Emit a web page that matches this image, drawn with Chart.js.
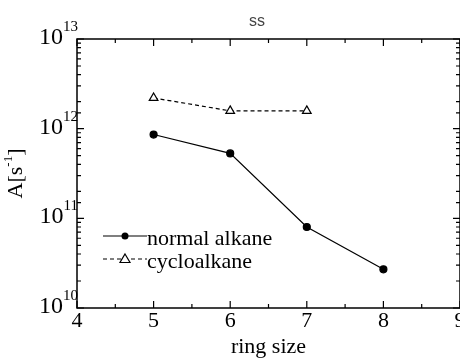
<!DOCTYPE html>
<html>
<head>
<meta charset="utf-8">
<script src="https://cdn.jsdelivr.net/npm/chart.js@4.4.0/dist/chart.umd.min.js"></script>
<style>
  html, body { margin: 0; padding: 0; background: #fff; }
  #chart { display: block; }
</style>
</head>
<body>
<canvas id="chart" width="460" height="360"></canvas>
<script>
const ringSizes = [5, 6, 7, 8];
const normalAlkane = [8.6e11, 5.3e11, 8.0e10, 2.7e10];
const cycloSizes = [5, 6, 7];
const cycloalkane = [2.2e12, 1.58e12, 1.58e12];
const xTickLabels = ['4', '5', '6', '7', '8', '9'];
const yDecades = [10, 11, 12, 13];

const serif = '"Liberation Serif", "Times New Roman", serif';

const frame = {
  id: 'frame',
  afterDraw(chart) {
    const { ctx, chartArea: a, scales } = chart;
    const x = scales.x, y = scales.y;
    ctx.save();
    ctx.strokeStyle = '#000';
    ctx.lineWidth = 1.5;
    ctx.strokeRect(a.left, a.top, a.right - a.left, a.bottom - a.top);

    // inward ticks
    ctx.lineWidth = 1.2;
    ctx.beginPath();
    for (let v = 4; v <= 9; v += 0.5) {
      const px = x.getPixelForValue(v);
      const len = Number.isInteger(v) ? 7 : 4;
      ctx.moveTo(px, a.bottom); ctx.lineTo(px, a.bottom - len);
      ctx.moveTo(px, a.top); ctx.lineTo(px, a.top + len);
    }
    y.ticks.forEach(t => {
      const py = y.getPixelForValue(t.value);
      const e = Math.log10(t.value);
      const len = Math.abs(e - Math.round(e)) < 1e-6 ? 7 : 4;
      ctx.moveTo(a.left, py); ctx.lineTo(a.left + len, py);
      ctx.moveTo(a.right, py); ctx.lineTo(a.right - len, py);
    });
    ctx.stroke();

    // y tick labels 10^n
    ctx.fillStyle = '#000';
    ctx.textBaseline = 'alphabetic';
    yDecades.forEach(n => {
      const py = y.getPixelForValue(Math.pow(10, n));
      ctx.font = '15px ' + serif;
      ctx.textAlign = 'right';
      const expW = ctx.measureText(String(n)).width;
      ctx.fillText(String(n), a.left + 1, py - 8);
      ctx.font = '24px ' + serif;
      ctx.fillText('10', a.left + 1 - expW, py + 5);
    });

    // y axis title
    ctx.save();
    ctx.translate(16, (a.top + a.bottom) / 2);
    ctx.rotate(-Math.PI / 2);
    ctx.textAlign = 'left';
    ctx.textBaseline = 'middle';
    const parts = [['A[s', 22, 0], ['-1', 13, -7], [']', 22, 0]];
    let total = 0;
    parts.forEach(p => { ctx.font = p[1] + 'px ' + serif; total += ctx.measureText(p[0]).width; });
    let cx = -total / 2;
    parts.forEach(p => {
      ctx.font = p[1] + 'px ' + serif;
      ctx.fillText(p[0], cx, p[2]);
      cx += ctx.measureText(p[0]).width;
    });
    ctx.restore();

    // title
    ctx.font = '16px "Liberation Sans", Arial, sans-serif';
    ctx.fillStyle = '#444';
    ctx.textAlign = 'center';
    ctx.textBaseline = 'middle';
    ctx.fillText('ss', 257, 22);

    // legend inside plot
    ctx.strokeStyle = '#000';
    ctx.lineWidth = 1.2;
    ctx.textAlign = 'left';
    ctx.font = '22px ' + serif;
    const ds = chart.data.datasets;
    const rows = [236, 259];
    ds.forEach((d, i) => {
      const ly = rows[i];
      ctx.setLineDash(d.borderDash || []);
      ctx.beginPath();
      ctx.moveTo(103, ly); ctx.lineTo(147, ly);
      ctx.stroke();
      ctx.setLineDash([]);
      if (d.pointStyle === 'triangle') {
        ctx.fillStyle = '#fff';
        ctx.beginPath();
        ctx.moveTo(125, ly - 5); ctx.lineTo(130, ly + 3.5); ctx.lineTo(120, ly + 3.5); ctx.closePath();
        ctx.fill(); ctx.stroke();
      } else {
        ctx.fillStyle = '#000';
        ctx.beginPath();
        ctx.arc(125, ly, 3.5, 0, Math.PI * 2);
        ctx.fill();
      }
      ctx.fillStyle = '#000';
      ctx.textBaseline = 'middle';
      ctx.fillText(d.label, 147, ly + 3);
    });
    ctx.restore();
  }
};

new Chart(document.getElementById('chart'), {
  type: 'line',
  data: {
    datasets: [
      {
        label: 'normal alkane',
        data: ringSizes.map((r, i) => ({ x: r, y: normalAlkane[i] })),
        borderColor: '#000',
        borderWidth: 1.2,
        pointStyle: 'circle',
        pointRadius: 3.5,
        pointBackgroundColor: '#000',
        pointBorderColor: '#000',
        tension: 0
      },
      {
        label: 'cycloalkane',
        data: cycloSizes.map((r, i) => ({ x: r, y: cycloalkane[i] })),
        borderColor: '#000',
        borderWidth: 1.2,
        borderDash: [4, 3],
        pointStyle: 'triangle',
        pointRadius: 5,
        pointBackgroundColor: '#fff',
        pointBorderColor: '#000',
        pointBorderWidth: 1.2,
        tension: 0
      }
    ]
  },
  options: {
    responsive: false,
    animation: false,
    layout: { autoPadding: false, padding: { top: 39, right: -2, left: 0, bottom: 0 } },
    plugins: { legend: { display: false }, tooltip: { enabled: false } },
    scales: {
      x: {
        type: 'linear',
        min: 4,
        max: 9,
        grid: { display: false, drawTicks: false },
        border: { display: false },
        ticks: {
          stepSize: 1,
          padding: 0,
          color: '#000',
          font: { family: serif, size: 22 },
          callback: (v) => xTickLabels[v - 4]
        },
        title: {
          display: true,
          text: 'ring size',
          color: '#000',
          font: { family: serif, size: 22 },
          padding: { top: 0, bottom: 0 }
        },
        afterFit: (s) => { s.height = 52; s.paddingRight = 0; s.paddingLeft = 0; }
      },
      y: {
        type: 'logarithmic',
        min: 1e10,
        max: 1e13,
        grid: { display: false, drawTicks: false },
        border: { display: false },
        ticks: { display: false },
        afterFit: (s) => { s.width = 77; }
      }
    }
  },
  plugins: [frame]
});
</script>
</body>
</html>
